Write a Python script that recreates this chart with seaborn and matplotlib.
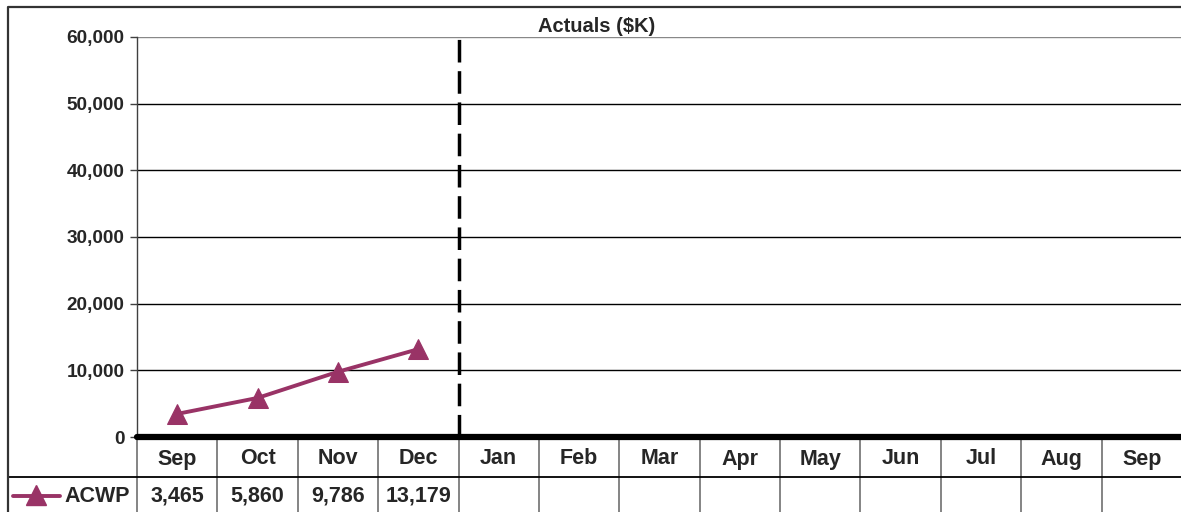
import pandas as pd
import seaborn as sns
import matplotlib.pyplot as plt
from matplotlib.lines import Line2D
from matplotlib import transforms

# chart data
months = ["Sep", "Oct", "Nov", "Dec", "Jan", "Feb", "Mar", "Apr", "May", "Jun", "Jul", "Aug", "Sep"]
acwp = [3465, 5860, 9786, 13179]
series_name = "ACWP"
title = "Actuals ($K)"
y_ticks = [0, 10000, 20000, 30000, 40000, 50000, 60000]
split_after = 3  # dashed divider sits after Dec

W, H = 1181, 512
plum = "#993366"

sns.set_style("white")
plt.rcParams["font.family"] = ["Liberation Sans", "DejaVu Sans"]
plt.rcParams["font.weight"] = "bold"

fig = plt.figure(figsize=(W / 100, H / 100), dpi=100)


def fx(px):
    return px / W


def fy(py):
    return 1 - py / H


ax = fig.add_axes([fx(137), fy(437), fx(1182) - fx(137), fy(37) - fy(437)])

df = pd.DataFrame({"month": range(len(acwp)), "value": acwp})
sns.lineplot(data=df, x="month", y="value", ax=ax, color=plum, lw=2.8,
             marker="^", markersize=15, markeredgecolor=plum, zorder=5)

ax.set_xlim(-0.5, len(months) - 0.5)
ax.set_ylim(y_ticks[0], y_ticks[-1])
ax.set_yticks(y_ticks)
ax.set_yticklabels([f"{v:,}" for v in y_ticks], fontsize=13.7, fontweight="bold")
ax.set_xticks([])
ax.set_xlabel("")
ax.set_ylabel("")

# gridlines
for v in y_ticks[1:]:
    ax.axhline(v, color="black" if v < y_ticks[-1] else "#888888", lw=1, zorder=1)

# thick category axis and dashed divider
ax.axhline(0, color="black", lw=4.5, zorder=6, clip_on=False)
ax.axvline(split_after + 0.5, color="black", lw=2.5, dashes=(6.5, 2.5), zorder=4)

for s in ["top", "right", "bottom"]:
    ax.spines[s].set_visible(False)
ax.spines["left"].set_color("#404040")
ax.spines["left"].set_linewidth(1)
ax.tick_params(axis="y", which="major", left=True, length=5, width=1, color="#404040", pad=4)

# data table under the chart
trans = transforms.blended_transform_factory(ax.transData, ax.transAxes)
row2_bot = (437 - 520) / 400
for i in range(len(months) + 1):
    ax.plot([i - 0.5, i - 0.5], [0, row2_bot], transform=trans, color="#707070",
            lw=1.2, clip_on=False, zorder=2)

fig.add_artist(Line2D([fx(8), 1], [fy(477), fy(477)], color="black", lw=1.3))
# chart border
fig.add_artist(Line2D([fx(8), fx(8), 1], [0, fy(7), fy(7)], color="#333333", lw=1.6))

for i, m in enumerate(months):
    ax.text(i, (437 - 459) / 400, m, transform=trans, ha="center", va="center",
            fontsize=15.5, fontweight="bold", clip_on=False)
for i, v in enumerate(acwp):
    ax.text(i, (437 - 496) / 400, f"{v:,}", transform=trans, ha="center", va="center",
            fontsize=15.5, fontweight="bold", clip_on=False)

# legend key in the table
fig.add_artist(Line2D([fx(13), fx(60)], [fy(496), fy(496)], color=plum, lw=2.8))
fig.add_artist(Line2D([fx(36)], [fy(495)], color=plum, marker="^", markersize=15, lw=0))
fig.text(fx(64), fy(496), series_name, ha="left", va="center", fontsize=15.5, fontweight="bold")

fig.text(fx(597), fy(26), title, ha="center", va="center", fontsize=14.5, fontweight="bold")

fig.savefig("out.png", dpi=100)
